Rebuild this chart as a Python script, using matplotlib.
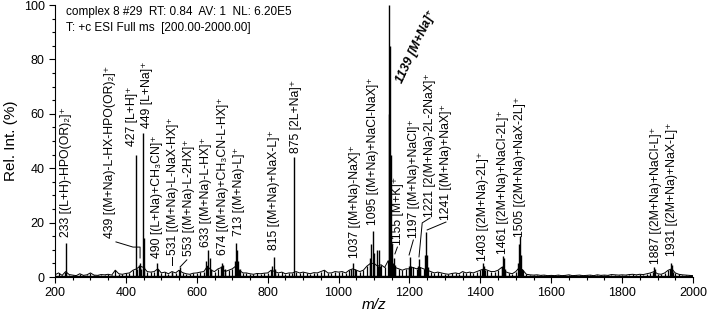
import matplotlib
matplotlib.use("Agg")
import matplotlib.pyplot as plt
import numpy as np

plt.rcParams['font.family'] = ['Liberation Sans', 'DejaVu Sans']
plt.rcParams['mathtext.fontset'] = 'custom'
plt.rcParams['mathtext.rm'] = 'Liberation Sans'
plt.rcParams['mathtext.it'] = 'Liberation Sans:italic'
plt.rcParams['mathtext.bf'] = 'Liberation Sans:bold'

# ---- peak data (m/z, relative intensity %) ----
peak_mz = [229, 231, 429, 436, 440, 444, 448, 451, 488, 530, 553,
           627, 632, 636, 640, 668, 671, 675, 679, 708, 711, 714, 717, 721,
           812, 818, 821, 874, 1036, 1041, 1045,
           1088, 1092, 1097, 1100, 1108, 1114, 1118,
           1141, 1143, 1145, 1147, 1150, 1154, 1157, 1160,
           1199, 1202, 1205, 1224, 1227, 1230, 1244, 1247, 1250, 1253,
           1405, 1408, 1411, 1414, 1461, 1464, 1467, 1470,
           1506, 1509, 1512, 1515, 1518, 1888, 1891, 1894,
           1934, 1937, 1940, 1943]
peak_int = [2.0, 12.5, 45.0, 4.5, 5.0, 3.0, 53.0, 14.5, 5.0, 2.0, 3.5,
            6.0, 10.0, 7.0, 3.0, 4.0, 5.0, 4.5, 3.0, 6.0, 12.5, 10.0, 6.0, 3.0,
            4.0, 7.5, 3.0, 44.0, 3.0, 5.0, 3.0,
            7.0, 12.0, 17.0, 9.0, 10.0, 10.0, 4.0,
            60.0, 100.0, 85.0, 45.0, 12.0, 5.0, 7.0, 4.5,
            4.0, 7.5, 4.0, 4.0, 6.5, 3.0, 8.0, 16.5, 8.0, 3.5,
            3.0, 5.0, 4.0, 2.5, 4.0, 7.7, 7.0, 3.0,
            5.0, 12.0, 15.0, 8.0, 3.0, 2.0, 3.7, 3.0,
            3.0, 5.0, 4.5, 2.0]

# baseline noise, every 10 m/z from 200 to 2000
noise_start, noise_step = 200, 10
noise_int = [0.8, 1.5, 0.6, 2.0, 0.9, 0.7, 0.5, 1.2, 0.6, 0.8,
             1.5, 0.7, 0.6, 0.9, 0.8, 1.0, 0.7, 2.5, 1.2, 1.0,
             1.3, 1.5, 2.5, 3.0, 4.0, 3.5, 2.0, 1.8, 2.0, 3.0,
             1.5, 1.8, 1.2, 2.0, 1.5, 2.5, 1.6, 1.2, 1.0, 1.4,
             1.5, 1.8, 2.0, 4.0, 2.5, 2.0, 3.0, 3.5, 2.0, 2.5,
             3.0, 4.0, 2.5, 1.5, 1.5, 1.2, 1.0, 1.3, 1.2, 1.4,
             1.5, 2.5, 2.0, 1.5, 1.8, 1.2, 1.5, 1.5, 2.0, 1.5,
             1.8, 1.5, 1.2, 1.6, 1.5, 2.0, 2.5, 1.5, 1.5, 2.0,
             1.8, 2.0, 1.5, 2.5, 3.0, 2.5, 2.0, 2.5, 4.0, 5.0,
             5.0, 4.0, 4.5, 3.5, 6.0, 4.0, 3.5, 3.0, 2.5, 3.0,
             3.0, 3.5, 3.0, 3.5, 3.0, 2.5, 2.0, 1.5, 1.8, 1.5,
             1.2, 1.0, 1.3, 1.5, 1.2, 2.0, 1.5, 1.8, 1.5, 2.0,
             2.5, 3.0, 2.5, 2.0, 2.0, 2.5, 3.5, 2.0, 1.5, 1.2,
             2.0, 3.5, 2.5, 1.0, 0.8, 0.7, 0.8, 0.6, 0.7, 0.5,
             0.6, 0.5, 0.7, 0.5, 0.6, 0.8, 0.5, 0.6, 0.7, 0.5,
             0.6, 0.7, 0.5, 0.8, 0.6, 0.7, 0.6, 0.9, 0.8, 0.7,
             0.8, 0.7, 0.9, 1.0, 0.8, 1.0, 0.9, 1.2, 1.5, 2.0,
             1.2, 1.0, 1.5, 2.5, 3.0, 1.5, 1.0, 0.8, 0.7, 0.6,
             0.5]

# ---- annotations ----
label_text = [
    "233 [(L+H)-HPO(OR)₂]⁺",
    "439 [(M+Na)-L-HX-HPO(OR)₂]⁺",
    "427 [L+H]⁺",
    "449 [L+Na]⁺",
    "490 [(L+Na)+CH₃CN]⁺",
    "531 [(M+Na)-L-NaX-HX]⁺",
    "553 [(M+Na)-L-2HX]⁺",
    "633 [(M+Na)-L-HX]⁺",
    "674 [(M+Na)+CH₃CN-L-HX]⁺",
    "713 [(M+Na)-L]⁺",
    "815 [(M+Na)+NaX-L]⁺",
    "875 [2L+Na]⁺",
    "1037 [(M+Na)-NaX]⁺",
    "1095 [(M+Na)+NaCl-NaX]⁺",
    "1155 [M+K]⁺",
    "1197 [(M+Na)+NaCl]⁺",
    "1221 [2(M+Na)-2L-2NaX]⁺",
    "1241 [(M+Na)+NaX]⁺",
    "1403 [(2M+Na)-2L]⁺",
    "1461 [(2M+Na)+NaCl-2L]⁺",
    "1505 [(2M+Na)+NaX-2L]⁺",
    "1887 [(2M+Na)+NaCl-L]⁺",
    "1931 [(2M+Na)+NaX-L]⁺",
]
label_x = [231, 355, 416, 460, 488, 533, 578, 626, 674, 719, 818, 880,
           1047, 1097, 1168, 1214, 1258, 1303, 1408, 1464, 1512, 1896, 1941]
label_y = [14.7, 14.3, 48.2, 54.8, 7.0, 8.1, 7.7, 11.0, 8.1, 15.0, 9.9, 45.6,
           7.0, 19.0, 11.8, 14.3, 22.0, 21.0, 5.9, 8.5, 14.7, 4.8, 7.7]

leader_lines = [
    ([372, 420, 440, 440], [12.9, 11.0, 11.0, 7.0]),
    ([530, 530], [7.4, 4.4]),
    ([572, 553], [6.3, 3.7]),
    ([1166, 1159], [11.0, 8.5]),
    ([1211, 1199], [13.6, 8.1]),
    ([1258, 1236, 1227], [21.7, 19.9, 7.4]),
    ([1303, 1250], [20.2, 17.3]),
]

base_text = "1139 [M+Na]⁺"
base_pos = (1180, 71)

header1 = "complex 8 #29  RT: 0.84  AV: 1  NL: 6.20E5"
header2 = "T: +c ESI Full ms  [200.00-2000.00]"
header_x = 232

# ---- figure ----
fig = plt.figure(figsize=(7.09, 3.14), dpi=100)
ax = fig.add_axes([55 / 709, 37 / 314, 638 / 709, 272 / 314])

noise_mz = noise_start + noise_step * np.arange(len(noise_int))
ax.plot(noise_mz, noise_int, color='black', lw=0.7)
ax.vlines(noise_mz, 0, noise_int, color='black', lw=0.9)
ax.axhline(0.3, color='black', lw=1.0)
ax.vlines(peak_mz, 0, peak_int, color='black', lw=1.0)

for t, x, y in zip(label_text, label_x, label_y):
    ax.text(x, y, t, rotation=90, ha='center', va='bottom', fontsize=8.8)

for xs, ys in leader_lines:
    ax.plot(xs, ys, color='black', lw=0.7)

ax.text(base_pos[0], base_pos[1], base_text, rotation=65, rotation_mode='anchor',
        ha='left', va='baseline', fontsize=9, fontweight='bold', style='italic')

ax.text(header_x, 99.5, header1, ha='left', va='top', fontsize=8.5)
ax.text(header_x, 93.8, header2, ha='left', va='top', fontsize=8.5)

ax.set_xlim(200, 2000)
ax.set_ylim(0, 100)
ax.set_xticks(np.arange(200, 2001, 200))
ax.set_xticks(np.arange(200, 2001, 50), minor=True)
ax.set_yticks(np.arange(0, 101, 20))
ax.set_yticks(np.arange(0, 101, 5), minor=True)
ax.tick_params(axis='both', which='major', length=4, width=0.8, labelsize=9)
ax.tick_params(axis='both', which='minor', length=2.5, width=0.8)
for s in ['top', 'right']:
    ax.spines[s].set_visible(False)
for s in ['left', 'bottom']:
    ax.spines[s].set_linewidth(0.8)

ax.set_ylabel("Rel. Int. (%)", fontsize=11, labelpad=4)
ax.set_xlabel("m/z", fontsize=11, style='italic', labelpad=-1)

fig.savefig("out.png", dpi=100)
